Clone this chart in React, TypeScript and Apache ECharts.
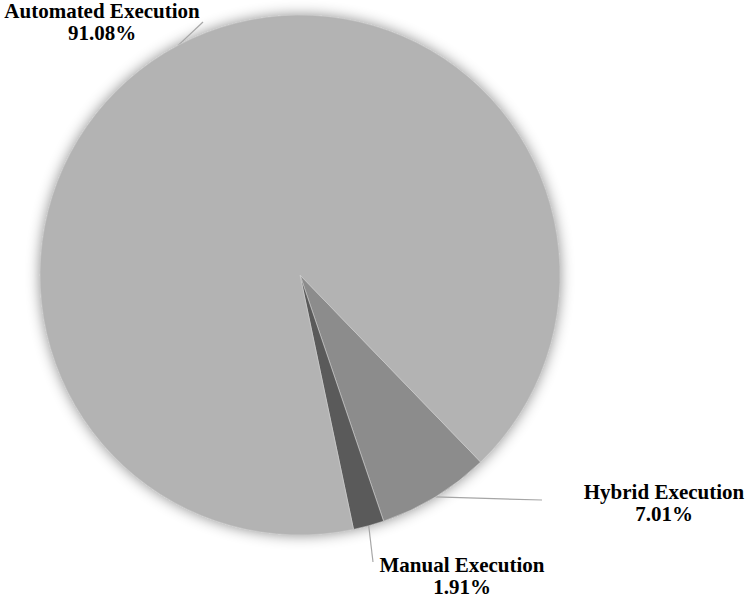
import React, { useEffect, useRef } from "react";
import * as echarts from "echarts";

const categories = ["Hybrid Execution", "Manual Execution", "Automated Execution"];
const values = [7.01, 1.91, 91.08];
const colors = ["#8c8c8c", "#5a5a5a", "#b3b3b3"];

// label placement (centre of text block) and leader-line end points
const labelPos: Record<string, { x: number; y: number; end: [number, number] }> = {
  "Hybrid Execution": { x: 664, y: 503, end: [542, 500] },
  "Manual Execution": { x: 462, y: 576, end: [373, 562] },
  "Automated Execution": { x: 102, y: 22, end: [203, 22] },
};

export default function App() {
  const ref = useRef<HTMLDivElement>(null);
  useEffect(() => {
    if (!ref.current) return;
    const chart = echarts.init(ref.current, undefined, { renderer: "svg" });
    const center = [300, 275];
    const radius = 260;
    chart.setOption({
      animation: false,
      backgroundColor: "#ffffff",
      series: [
        {
          type: "pie",
          silent: true,
          center,
          radius,
          z: 1,
          label: { show: false },
          labelLine: { show: false },
          itemStyle: {
            color: "#b3b3b3",
            shadowBlur: 14,
            shadowColor: "rgba(0,0,0,0.45)",
          },
          data: [{ value: 1, name: "" }],
        },
        {
          type: "pie",
          center,
          radius,
          z: 2,
          startAngle: -46,
          clockwise: true,
          avoidLabelOverlap: false,
          itemStyle: { borderColor: "#d0d0d0", borderWidth: 0.6 },
          label: {
            show: true,
            formatter: (p: any) => `${p.name}\n${p.value.toFixed(2)}%`,
            fontFamily: "Liberation Serif",
            fontWeight: "bold",
            fontSize: 21,
            lineHeight: 22,
            color: "#000000",
            align: "center",
          },
          labelLine: {
            show: true,
            length: 20,
            length2: 20,
            lineStyle: { color: "#a6a6a6", width: 1.2 },
          },
          labelLayout: (params: any) => {
            const name = categories[params.dataIndex];
            const lp = labelPos[name];
            const pts = params.labelLinePoints;
            const start = pts && pts.length ? pts[0] : lp.end;
            return {
              x: lp.x,
              y: lp.y,
              align: "center",
              verticalAlign: "middle",
              labelLinePoints: [start, lp.end],
            };
          },
          data: categories.map((c, i) => ({
            name: c,
            value: values[i],
            itemStyle: { color: colors[i] },
          })),
        },
      ],
    });
    return () => chart.dispose();
  }, []);
  return (
    <div
      ref={ref}
      style={{ position: "fixed", left: 0, top: 0, width: 748, height: 598 }}
    />
  );
}
